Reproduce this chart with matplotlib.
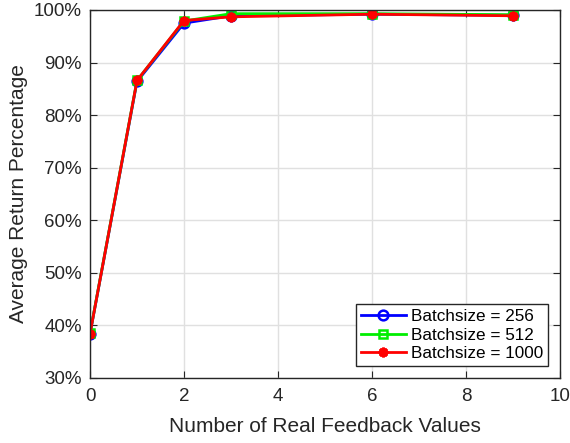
import matplotlib
matplotlib.use("Agg")
import matplotlib.pyplot as plt
from matplotlib.ticker import FuncFormatter

plt.rcParams["font.family"] = ["Liberation Sans", "DejaVu Sans"]

feedback = [0, 1, 2, 3, 6, 9]
ret_256 = [38.4, 86.4, 97.5, 98.9, 99.2, 99.0]
ret_512 = [38.5, 86.6, 97.9, 99.3, 99.3, 99.1]
ret_1000 = [38.4, 86.6, 98.0, 98.7, 99.2, 98.9]

fig = plt.figure(figsize=(5.70, 4.43), dpi=100)
ax = fig.add_axes([90 / 570, 1 - 378 / 443, 470 / 570, 368 / 443])

ax.plot(feedback, ret_256, color="blue", lw=2, marker="o", ms=7,
        mfc="none", mew=1.8, label="Batchsize = 256")
ax.plot(feedback, ret_512, color="#00ee00", lw=2, marker="s", ms=6,
        mfc="none", mew=1.8, label="Batchsize = 512")
ax.plot(feedback, ret_1000, color="red", lw=2, marker=(8, 2, 0), ms=7,
        mew=2, label="Batchsize = 1000")

ax.set_xlim(0, 10)
ax.set_ylim(30, 100)
ax.set_xticks(range(0, 11, 2))
ax.set_yticks(range(30, 101, 10))
ax.yaxis.set_major_formatter(FuncFormatter(lambda v, p: f"{v:.0f}%"))
ax.grid(True, color="#e0e0e0", lw=1)
ax.set_axisbelow(True)
ax.tick_params(direction="in", labelsize=13.5, length=5, top=True, right=True,
               colors="#262626", labelcolor="#262626")
ax.tick_params(axis="x", pad=7)
ax.tick_params(axis="y", pad=6)
for s in ax.spines.values():
    s.set_color("#262626")
    s.set_linewidth(1)

ax.set_xlabel("Number of Real Feedback Values", fontsize=15, labelpad=9,
              color="#262626")
ax.set_ylabel("Average Return Percentage", fontsize=15, labelpad=4,
              color="#262626")

leg = ax.legend(loc="lower right", fontsize=12.3, fancybox=False,
                edgecolor="#262626", framealpha=1, handlelength=2.6,
                borderpad=0.3, labelspacing=0.2, handletextpad=0.3,
                borderaxespad=0.7)
leg.get_frame().set_linewidth(1)

fig.savefig("out.png", dpi=100)
